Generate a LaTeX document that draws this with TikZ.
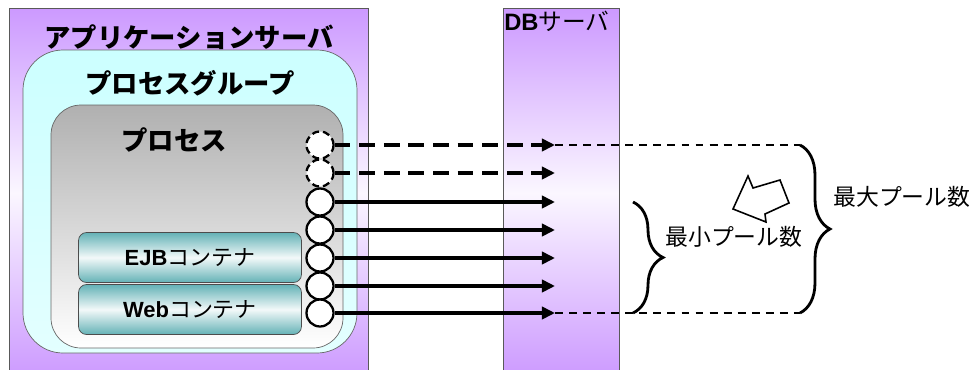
\documentclass[tikz,border=0pt]{standalone}
\usepackage{fontspec}
\setmainfont{Noto Sans CJK JP}
\newfontfamily\latina{Liberation Sans}
\usepackage{xcolor}
\usetikzlibrary{arrows.meta,decorations.pathreplacing}
\definecolor{MoradoServidor}{RGB}{204,153,255}
\definecolor{CianGrupo}{RGB}{204,255,255}
\definecolor{GrisProceso}{RGB}{176,176,176}
\definecolor{VerdeContenedor}{RGB}{100,178,182}

\begin{document}
\begin{tikzpicture}[x=0.02cm,y=-0.02cm,>=Latex,
  titulo/.style={inner sep=0pt,font=\fontsize{15}{18}\selectfont\bfseries},
  contenedor/.style={draw=black!70,rounded corners=0.16cm,minimum width=4.46cm,minimum height=1.0cm,
    top color=VerdeContenedor,bottom color=VerdeContenedor,middle color=VerdeContenedor!8,
    font=\fontsize{12.5}{14}\selectfont},
  conexion/.style={circle,draw,line width=1.3pt,fill=white,minimum size=0.54cm,inner sep=0pt},
  flecha/.style={line width=1.9pt,-{Triangle[length=7.5pt,width=7pt]}},
  punteado/.style={line width=0.8pt,dash pattern=on 4.5pt off 3.5pt},
  llave/.style={line width=1.6pt,decorate,decoration={brace,amplitude=0.6cm}},
  etiqueta/.style={anchor=west,inner sep=0pt,font=\fontsize{13}{15}\selectfont}]
  \useasboundingbox (0,0) rectangle (978,369);

  % servidores (se cortan por abajo)
  \path[draw=black!65,top color=MoradoServidor,bottom color=MoradoServidor,middle color=MoradoServidor!8]
    (9,8) rectangle (368,378);
  \path[draw=black!65,top color=MoradoServidor,bottom color=MoradoServidor,middle color=MoradoServidor!8]
    (503,8) rectangle (619,378);
  \node[titulo] (apptitulo) at (189,37) {アプリケーションサーバ};
  \node[anchor=west,inner sep=0pt,font=\fontsize{13.5}{15}\selectfont] (dbtitulo) at (504,21) {{\latina\bfseries DB}サーバ};

  % grupo de procesos y proceso
  \path[draw=black!60,rounded corners=0.8cm,top color=CianGrupo,bottom color=CianGrupo!55!white]
    (23,50) rectangle (357,353);
  \node[titulo] (grupotitulo) at (190,83) {プロセスグループ};
  \path[draw=black!60,rounded corners=0.6cm,top color=GrisProceso,bottom color=white]
    (51,105) rectangle (343,348);
  \node[titulo] (procesotitulo) at (174,140) {プロセス};

  \node[contenedor] (ejb) at (190,257.5) {{\latina\bfseries EJB}コンテナ};
  \node[contenedor] (web) at (190,309.5) {{\latina\bfseries Web}コンテナ};

  % conexiones del pool
  \foreach \i/\y in {1/145,2/173}
    \node[conexion,dash pattern=on 4pt off 2.3pt] (c\i) at (320,\y) {};
  \foreach \i/\y in {3/202,4/230,5/258,6/286,7/313}
    \node[conexion] (c\i) at (320,\y) {};
  \foreach \i/\y in {1/145,2/173,3/202,4/230,5/258,6/286,7/313}
    \coordinate (t\i) at (555,\y);

  \foreach \i in {1,2}
    \draw[flecha,dash pattern=on 9pt off 5pt] (c\i) -- (t\i);
  \foreach \i in {3,...,7}
    \draw[flecha] (c\i) -- (t\i);

  \coordinate (mx1) at (800,145);
  \coordinate (mx2) at (800,313);
  \coordinate (mn1) at (633,202);
  \coordinate (mn2) at (633,313);
  \draw[punteado] (t1) -- (mx1);
  \draw[punteado] (t7) -- (mx2);

  \draw[llave] (mn1) -- (mn2);
  \draw[llave] (mx1) -- (mx2);
  \node[etiqueta] (mintxt) at (665,237) {最小プール数};
  \node[etiqueta] (maxtxt) at (833,197) {最大プール数};

  % flecha hueca
  \draw[line width=0.9pt,fill=white,line join=miter] (748,176) -- (753,188) -- (780,180) -- (789,203)
    -- (765,214) -- (766,222) -- (733,209) -- cycle;
\end{tikzpicture}
\end{document}
